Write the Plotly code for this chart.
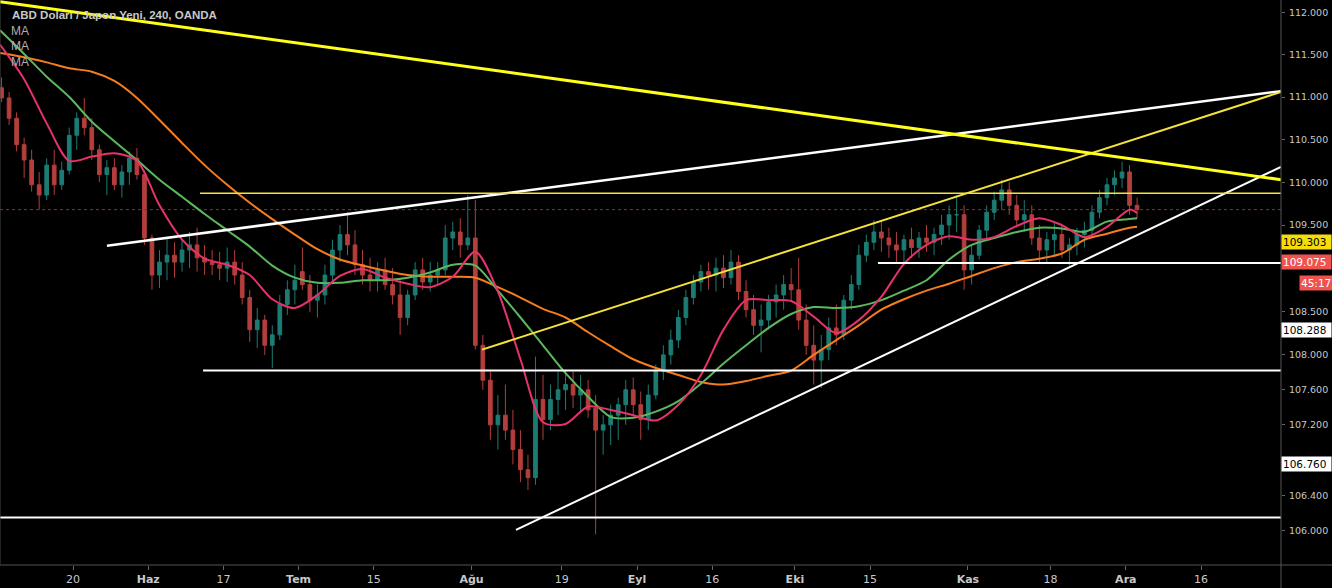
import math
import pandas as pd
import plotly.graph_objects as go

# ---------------- data ----------------
# one candle per trading day (USD/JPY), 6 May 2019 - 3 Dec 2019
days = pd.bdate_range("2019-05-06", "2019-12-03") + pd.Timedelta(hours=12)

open_ = [
    111.11, 110.99, 110.75, 110.44, 110.26, 109.97, 109.85, 110.20, 109.97, 110.14,
    110.55, 110.75, 110.64, 110.38, 110.09, 110.17, 109.97, 110.12, 110.28, 110.09,
    109.35, 108.92, 109.07, 109.15, 109.07, 109.21, 109.27, 109.12, 109.07, 109.04,
    109.00, 109.07, 108.92, 108.66, 108.29, 108.40, 108.11, 108.23, 108.58, 108.75,
    108.96, 108.81, 108.63, 108.69, 108.92, 109.21, 109.39, 109.27, 109.04, 108.92,
    108.86, 108.98, 108.81, 108.69, 108.43, 108.69, 108.98, 108.84, 108.92, 108.98,
    109.35, 109.42, 109.27, 109.35, 108.11, 107.71, 107.20, 107.31, 107.14, 106.92,
    106.69, 106.60, 107.49, 107.26, 107.49, 107.60, 107.66, 107.54, 107.60, 107.39,
    107.14, 107.20, 107.31, 107.43, 107.60, 107.43, 107.26, 107.54, 107.81, 108.00,
    108.17, 108.43, 108.66, 108.84, 108.96, 108.92, 109.00, 108.89, 109.07, 108.73,
    108.52, 108.34, 108.40, 108.61, 108.69, 108.81, 108.75, 108.40, 108.11, 107.94,
    108.06, 108.31, 108.23, 108.63, 108.81, 109.15, 109.30, 109.42, 109.35, 109.27,
    109.21, 109.33, 109.24, 109.35, 109.30, 109.39, 109.50, 109.62, 109.62, 108.98,
    109.15, 109.44, 109.65, 109.79, 109.91, 109.73, 109.56, 109.62, 109.35, 109.21,
    109.33, 109.39, 109.21, 109.27, 109.39, 109.44, 109.65, 109.82, 109.97, 110.05,
    110.12, 109.73,
]
high = [
    111.23, 111.06, 110.82, 110.52, 110.38, 110.12, 110.28, 110.38, 110.24, 110.64,
    110.82, 110.99, 110.75, 110.44, 110.26, 110.28, 110.20, 110.36, 110.40, 110.14,
    109.39, 109.21, 109.35, 109.30, 109.33, 109.42, 109.47, 109.27, 109.21, 109.19,
    109.24, 109.21, 109.07, 108.75, 108.54, 108.46, 108.34, 108.69, 108.86, 109.04,
    109.24, 108.92, 108.81, 109.04, 109.33, 109.50, 109.65, 109.44, 109.21, 109.12,
    109.07, 109.12, 109.00, 108.86, 108.75, 109.07, 109.12, 109.07, 109.07, 109.50,
    109.54, 109.58, 109.85, 109.79, 108.23, 107.81, 107.54, 107.66, 107.37, 107.14,
    106.86, 107.98, 107.77, 107.66, 107.81, 107.83, 107.81, 107.77, 107.71, 107.54,
    107.31, 107.43, 107.51, 107.71, 107.74, 107.58, 107.66, 107.89, 108.11, 108.29,
    108.52, 108.75, 108.92, 109.04, 109.07, 109.12, 109.15, 109.21, 109.15, 108.86,
    108.69, 108.58, 108.69, 108.81, 108.92, 109.00, 109.12, 108.58, 108.34, 108.23,
    108.43, 108.58, 108.69, 108.92, 109.27, 109.39, 109.56, 109.54, 109.47, 109.42,
    109.39, 109.47, 109.42, 109.50, 109.47, 109.62, 109.73, 109.85, 109.73, 109.27,
    109.50, 109.73, 109.89, 110.03, 110.00, 109.85, 109.79, 109.73, 109.50, 109.42,
    109.54, 109.50, 109.35, 109.47, 109.54, 109.73, 109.91, 110.05, 110.14, 110.24,
    110.20, 109.82,
]
low = [
    110.94, 110.67, 110.36, 110.05, 109.89, 109.68, 109.79, 109.85, 109.91, 110.09,
    110.38, 110.55, 110.26, 110.00, 109.85, 109.91, 109.82, 109.97, 110.03, 109.27,
    108.75, 108.77, 108.86, 108.89, 108.96, 109.00, 108.96, 108.92, 108.92, 108.86,
    108.84, 108.81, 108.58, 108.15, 108.08, 108.00, 107.85, 108.17, 108.46, 108.58,
    108.75, 108.49, 108.43, 108.58, 108.81, 109.07, 109.15, 108.92, 108.81, 108.73,
    108.73, 108.75, 108.58, 108.23, 108.34, 108.63, 108.75, 108.73, 108.81, 108.92,
    109.21, 109.12, 109.21, 108.06, 107.60, 107.03, 106.92, 107.03, 106.75, 106.55,
    106.46, 106.52, 107.03, 107.14, 107.31, 107.37, 107.39, 107.35, 107.28, 105.96,
    106.86, 106.97, 107.03, 107.20, 107.31, 107.03, 107.14, 107.49, 107.71, 107.89,
    108.08, 108.34, 108.58, 108.73, 108.75, 108.73, 108.77, 108.81, 108.63, 108.43,
    108.23, 108.03, 108.29, 108.43, 108.52, 108.63, 108.29, 108.00, 107.66, 107.62,
    107.94, 108.11, 108.17, 108.52, 108.75, 109.07, 109.21, 109.19, 109.12, 109.07,
    109.04, 109.12, 109.12, 109.19, 109.15, 109.27, 109.33, 109.42, 108.75, 108.81,
    109.10, 109.35, 109.56, 109.68, 109.62, 109.47, 109.42, 109.27, 109.07, 109.07,
    109.15, 109.12, 109.03, 109.15, 109.24, 109.35, 109.58, 109.73, 109.85, 109.93,
    109.62, 109.58,
]
close = [
    110.99, 110.75, 110.44, 110.26, 109.97, 109.85, 110.20, 109.97, 110.14, 110.55,
    110.75, 110.64, 110.38, 110.09, 110.17, 109.97, 110.12, 110.28, 110.09, 109.35,
    108.92, 109.07, 109.15, 109.07, 109.21, 109.27, 109.12, 109.07, 109.04, 109.00,
    109.07, 108.92, 108.66, 108.29, 108.40, 108.11, 108.23, 108.58, 108.75, 108.86,
    108.81, 108.63, 108.69, 108.92, 109.21, 109.39, 109.27, 109.04, 108.92, 108.86,
    108.98, 108.81, 108.69, 108.43, 108.69, 108.98, 108.84, 108.92, 108.98, 109.35,
    109.42, 109.27, 109.35, 108.11, 107.71, 107.20, 107.31, 107.14, 106.92, 106.69,
    106.60, 107.49, 107.26, 107.49, 107.60, 107.66, 107.54, 107.60, 107.37, 107.14,
    107.20, 107.31, 107.43, 107.60, 107.43, 107.26, 107.54, 107.81, 108.00, 108.17,
    108.43, 108.66, 108.84, 108.96, 108.92, 109.00, 108.89, 109.07, 108.73, 108.52,
    108.34, 108.40, 108.61, 108.69, 108.81, 108.75, 108.40, 108.11, 107.94, 108.06,
    108.31, 108.23, 108.63, 108.81, 109.15, 109.30, 109.42, 109.35, 109.27, 109.21,
    109.33, 109.24, 109.35, 109.30, 109.39, 109.50, 109.62, 109.62, 108.98, 109.15,
    109.44, 109.65, 109.79, 109.91, 109.73, 109.56, 109.62, 109.35, 109.21, 109.33,
    109.39, 109.21, 109.27, 109.39, 109.44, 109.65, 109.82, 109.97, 110.05, 110.12,
    109.73, 109.68,
]

# moving averages
ma_dates = [
    "2019-05-06 07:00", "2019-05-09 12:00", "2019-05-14 12:00", "2019-05-17 12:00",
    "2019-05-22 12:00", "2019-05-27 12:00", "2019-05-30 12:00", "2019-06-04 12:00",
    "2019-06-07 12:00", "2019-06-12 12:00", "2019-06-17 12:00", "2019-06-20 12:00",
    "2019-06-25 12:00", "2019-06-28 12:00", "2019-07-03 12:00", "2019-07-08 12:00",
    "2019-07-11 12:00", "2019-07-16 12:00", "2019-07-19 12:00", "2019-07-24 12:00",
    "2019-07-29 12:00", "2019-08-01 12:00", "2019-08-06 12:00", "2019-08-09 12:00",
    "2019-08-14 12:00", "2019-08-19 12:00", "2019-08-22 12:00", "2019-08-27 12:00",
    "2019-08-30 12:00", "2019-09-04 12:00", "2019-09-09 12:00", "2019-09-12 12:00",
    "2019-09-17 12:00", "2019-09-20 12:00", "2019-09-25 12:00", "2019-09-30 12:00",
    "2019-10-03 12:00", "2019-10-08 12:00", "2019-10-11 12:00", "2019-10-16 12:00",
    "2019-10-21 12:00", "2019-10-24 12:00", "2019-10-29 12:00", "2019-11-01 12:00",
    "2019-11-06 12:00", "2019-11-11 12:00", "2019-11-14 12:00", "2019-11-19 12:00",
    "2019-11-22 12:00", "2019-11-27 12:00", "2019-12-02 12:00", "2019-12-03 12:00",
]
ma_fast = [
    111.62, 111.21, 110.69, 110.25, 110.30, 110.34, 110.25, 109.73, 109.33, 109.11,
    109.04, 108.92, 108.64, 108.54, 108.69, 108.91, 108.99, 108.89, 108.82, 108.78,
    108.90, 109.19, 108.73, 107.95, 107.23, 107.21, 107.41, 107.37, 107.31, 107.25,
    107.43, 107.77, 108.29, 108.63, 108.63, 108.62, 108.44, 108.25, 108.40, 108.67,
    109.05, 109.27, 109.37, 109.33, 109.36, 109.49, 109.58, 109.50, 109.36, 109.48,
    109.68, 109.64,
]
ma_mid = [
    111.79, 111.51, 111.24, 111.00, 110.71, 110.48, 110.26, 110.03, 109.83, 109.63,
    109.44, 109.25, 109.03, 108.89, 108.83, 108.83, 108.86, 108.86, 108.89, 108.95,
    109.04, 109.03, 108.74, 108.43, 108.11, 107.79, 107.52, 107.29, 107.28, 107.35,
    107.47, 107.67, 107.90, 108.11, 108.31, 108.47, 108.55, 108.54, 108.56, 108.63,
    108.74, 108.86, 109.10, 109.27, 109.35, 109.42, 109.47, 109.46, 109.42, 109.54,
    109.57, 109.58,
]
ma_slow = [
    111.52, 111.47, 111.41, 111.34, 111.30, 111.19, 110.99, 110.73, 110.46, 110.20,
    109.97, 109.76, 109.57, 109.39, 109.22, 109.10, 109.03, 108.97, 108.92, 108.90,
    108.90, 108.89, 108.78, 108.66, 108.53, 108.43, 108.26, 108.10, 107.95, 107.85,
    107.77, 107.69, 107.66, 107.70, 107.76, 107.82, 108.00, 108.17, 108.34, 108.52,
    108.64, 108.74, 108.82, 108.91, 109.00, 109.07, 109.11, 109.17, 109.33, 109.40,
    109.47, 109.48,
]

# drawn trend / level lines: (start date, start price, end date, end price)
RIGHT_EDGE = "2019-12-30 15:20"
LEFT_EDGE = "2019-05-06 07:00"
desc_yellow = ("2019-05-06 07:00", 112.13, RIGHT_EDGE, 110.03)
level_yellow = ("2019-06-11 21:20", 109.87, RIGHT_EDGE, 109.87)
rise_yellow = ("2019-08-02 09:20", 108.06, RIGHT_EDGE, 111.06)
upper_white = ("2019-05-24 12:30", 109.26, RIGHT_EDGE, 111.07)
lower_white = ("2019-08-08 21:50", 106.01, RIGHT_EDGE, 110.18)
level_white_1 = ("2019-06-12 07:00", 107.82, RIGHT_EDGE, 107.82)
level_white_2 = (LEFT_EDGE, 106.15, RIGHT_EDGE, 106.15)
level_white_3 = ("2019-10-16 01:00", 109.06, RIGHT_EDGE, 109.06)
last_price = 109.68

tick_dates = ["2019-05-20", "2019-06-03", "2019-06-17", "2019-07-01", "2019-07-15",
              "2019-08-01", "2019-08-19", "2019-09-02", "2019-09-16", "2019-10-01",
              "2019-10-15", "2019-11-01", "2019-11-18", "2019-12-02", "2019-12-16"]
tick_text = ["20", "<b>Haz</b>", "17", "<b>Tem</b>", "15", "<b>Ağu</b>", "19", "<b>Eyl</b>",
             "16", "<b>Eki</b>", "15", "<b>Kas</b>", "18", "<b>Ara</b>", "16"]
price_ticks = [112.0, 111.5, 111.0, 110.5, 110.0, 109.5, 108.5, 108.0, 107.6, 107.2, 106.4, 106.0]

# price-scale labels: (price, text, background, text colour)
scale_labels = [
    (109.303, "109.303", "#f5dd0c", "#000000"),
    (109.075, "109.075", "#ef5350", "#ffffff"),
    (108.288, "108.288", "#ffffff", "#000000"),
    (106.760, "106.760", "#ffffff", "#000000"),
]
countdown = "45:17"

# ---------------- figure ----------------
fig = go.Figure()

fig.add_trace(go.Scatter(x=[LEFT_EDGE, RIGHT_EDGE], y=[last_price, last_price], mode="lines",
                         line=dict(color="#8e2f2f", width=1, dash="dot"), hoverinfo="skip"))

fig.add_trace(go.Candlestick(
    x=days, open=open_, high=high, low=low, close=close,
    increasing=dict(line=dict(color="#26a69a", width=1), fillcolor="#26a69a"),
    decreasing=dict(line=dict(color="#ef5350", width=1), fillcolor="#ef5350"),
    whiskerwidth=0, opacity=0.75,
))

for vals, col in [(ma_slow, "#f57c1f"), (ma_mid, "#5cb85c"), (ma_fast, "#e8326a")]:
    fig.add_trace(go.Scatter(x=ma_dates, y=vals, mode="lines",
                             line=dict(color=col, width=2, shape="spline", smoothing=0.8),
                             hoverinfo="skip"))

line_styles = [
    (level_white_1, "#ffffff", 2),
    (level_white_2, "#ffffff", 2),
    (level_white_3, "#ffffff", 2),
    (upper_white, "#ffffff", 2.5),
    (lower_white, "#ffffff", 2),
    (level_yellow, "#f5e339", 1.5),
    (rise_yellow, "#f5e339", 2),
    (desc_yellow, "#ffff1a", 3),
]
for (x0, y0, x1, y1), col, w in line_styles:
    fig.add_trace(go.Scatter(x=[x0, x1], y=[y0, y1], mode="lines",
                             line=dict(color=col, width=w), hoverinfo="skip"))

annotations = [
    dict(text="<b>ABD Doları / Japon Yeni, 240, OANDA</b>", xref="paper", yref="paper",
         x=10 / 1281, y=1 - 15 / 565, xanchor="left", yanchor="middle", showarrow=False,
         font=dict(family="Liberation Sans", size=11.5, color="#c8c8c8")),
]
for k, yy in enumerate([31, 46, 62]):
    annotations.append(dict(text="MA", xref="paper", yref="paper", x=9 / 1281, y=1 - yy / 565,
                            xanchor="left", yanchor="middle", showarrow=False,
                            font=dict(family="Liberation Sans", size=12, color="#b0b0b0")))
for price, txt, bg, fg in scale_labels:
    annotations.append(dict(text=txt, xref="paper", yref="y", x=1, y=math.log10(price),
                            xanchor="left", yanchor="middle", showarrow=False, bgcolor=bg,
                            width=47, align="left", borderpad=1,
                            font=dict(family="DejaVu Sans", size=10.5, color=fg)))
annotations.append(dict(text=countdown, xref="paper", yref="y", x=1, y=math.log10(109.075),
                        yshift=-21, xshift=18, xanchor="left", yanchor="middle", showarrow=False,
                        bgcolor="#ef5350", width=30, align="left", borderpad=1,
                        font=dict(family="DejaVu Sans", size=10.5, color="#ffffff")))

shapes = [
    dict(type="line", xref="paper", yref="paper", x0=0, x1=1332 / 1281, y0=0, y1=0,
         line=dict(color="#555555", width=1)),
    dict(type="line", xref="paper", yref="paper", x0=1, x1=1, y0=-23 / 565, y1=1,
         line=dict(color="#555555", width=1)),
    dict(type="line", xref="paper", yref="paper", x0=0, x1=0, y0=0, y1=1,
         line=dict(color="#444444", width=1)),
]

fig.update_layout(
    width=1332, height=588, margin=dict(l=0, r=51, t=0, b=23, autoexpand=False),
    paper_bgcolor="#000000", plot_bgcolor="#000000", showlegend=False,
    annotations=annotations, shapes=shapes,
    xaxis=dict(type="date", rangebreaks=[dict(bounds=["sat", "mon"])],
               range=[LEFT_EDGE, RIGHT_EDGE], rangeslider=dict(visible=False),
               tickmode="array", tickvals=tick_dates, ticktext=tick_text, automargin=False,
               ticks="outside", ticklen=4, tickcolor="#666666", showgrid=False, zeroline=False,
               showline=False, tickfont=dict(family="DejaVu Sans", size=11, color="#c8c8c8")),
    yaxis=dict(type="log", side="right", automargin=False,
               range=[math.log10(105.615), math.log10(112.151)],
               tickmode="array", tickvals=price_ticks, ticktext=[f"{v:.3f}" for v in price_ticks],
               ticks="outside", ticklen=3, tickcolor="#666666", showgrid=False, zeroline=False,
               showline=False, ticklabelstandoff=2,
               tickfont=dict(family="DejaVu Sans", size=9.5, color="#c8c8c8")),
)

fig.write_html("out.html")
